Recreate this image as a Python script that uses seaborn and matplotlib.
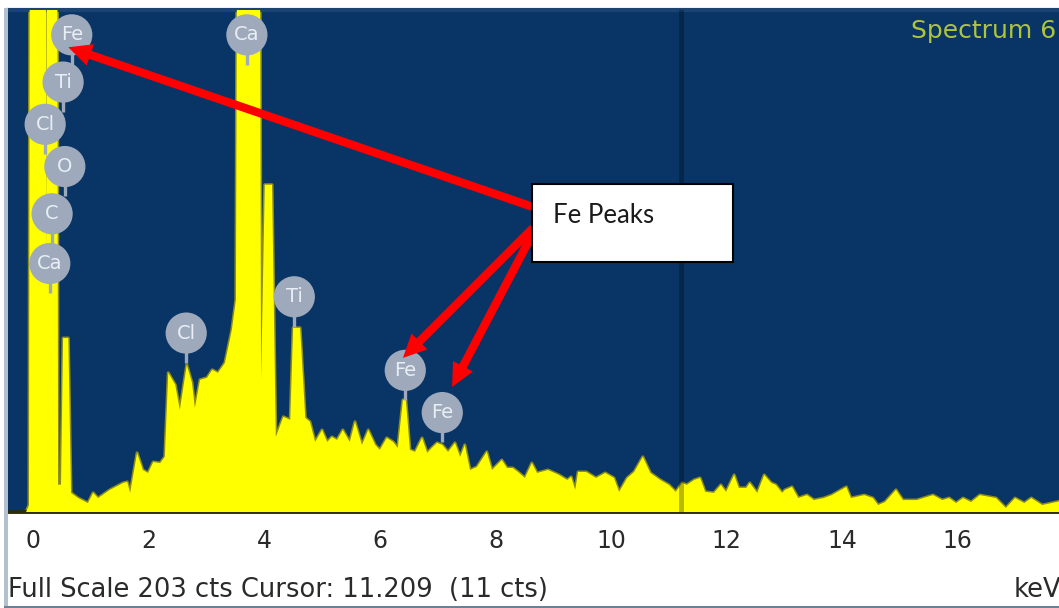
import matplotlib
matplotlib.use('Agg')
import matplotlib.pyplot as plt
import matplotlib.patches as mpatches
from matplotlib.ticker import MultipleLocator
import seaborn as sns

sns.set_style('white')
plt.rcParams['font.family'] = ['DejaVu Sans']

# Spectrum (keV, counts). Off-scale peaks are set to 600.
kev = [-0.12, -0.07, -0.035, 0.21, 0.234, 0.26, 0.40, 0.433, 0.484, 0.52,
       0.61, 0.657, 0.78, 0.95, 1.04, 1.125, 1.33, 1.56, 1.63, 1.68,
       1.80, 1.90, 1.99, 2.08, 2.20, 2.28, 2.34, 2.46, 2.54, 2.66,
       2.75, 2.80, 2.89, 3.01, 3.10, 3.20, 3.32, 3.44, 3.51, 3.58,
       3.89, 3.945, 4.01, 4.135, 4.20, 4.33, 4.45, 4.50, 4.62, 4.71,
       4.79, 4.88, 5.00, 5.09, 5.17, 5.26, 5.36, 5.48, 5.57, 5.69,
       5.80, 5.92, 6.00, 6.12, 6.23, 6.31, 6.40, 6.45, 6.52, 6.61,
       6.73, 6.82, 6.90, 6.99, 7.08, 7.18, 7.30, 7.39, 7.47, 7.56,
       7.68, 7.85, 7.94, 8.11, 8.20, 8.30, 8.39, 8.51, 8.63, 8.72,
       8.91, 9.10, 9.24, 9.31, 9.38, 9.43, 9.57, 9.74, 9.90, 10.05,
       10.14, 10.28, 10.40, 10.55, 10.68, 10.85, 11.00, 11.12, 11.23, 11.31,
       11.44, 11.54, 11.63, 11.78, 11.90, 11.99, 12.13, 12.21, 12.34, 12.40,
       12.53, 12.65, 12.77, 12.85, 12.96, 13.01, 13.13, 13.24, 13.39, 13.51,
       13.68, 13.82, 14.07, 14.15, 14.38, 14.53, 14.62, 14.74, 14.93, 15.05,
       15.29, 15.57, 15.73, 15.85, 15.97, 16.09, 16.23, 16.38, 16.66, 16.83,
       16.99, 17.15, 17.27, 17.46, 17.70, 17.86]
counts = [0, 2.8, 600, 600, 87, 600, 600, 11, 11, 70,
          70, 7.7, 5.6, 3.6, 7.7, 5.6, 8.9, 11.7, 12.1, 7.7,
          23.8, 16.9, 15.7, 20.1, 19.7, 22.2, 56.0, 51.2, 41.1, 59.2,
          52.0, 41.9, 53.2, 54.0, 57.2, 56.0, 60.0, 73.3, 85.4, 600,
          600, 53.2, 131.7, 131.7, 30.2, 38.3, 37.1, 74.1, 74.1, 37.9,
          36.3, 28.2, 33.0, 28.2, 30.2, 29.0, 33.0, 28.2, 36.3, 27.0,
          33.0, 27.0, 25.0, 29.8, 28.2, 25.8, 45.1, 45.1, 25.0, 24.2,
          29.8, 23.8, 25.8, 27.8, 27.0, 24.2, 27.8, 22.2, 27.0, 16.9,
          18.1, 24.2, 16.9, 20.9, 17.7, 17.7, 16.1, 13.7, 19.7, 15.7,
          16.9, 14.9, 12.9, 14.1, 8.9, 16.1, 16.1, 13.7, 15.7, 13.7,
          8.1, 13.7, 16.1, 22.2, 15.7, 12.9, 10.9, 8.1, 11.7, 10.9,
          12.9, 13.7, 8.1, 7.7, 10.9, 8.1, 14.9, 9.7, 9.7, 11.7,
          7.7, 14.9, 11.7, 10.9, 7.7, 8.9, 10.1, 5.6, 6.8, 4.8,
          5.6, 6.8, 10.1, 5.6, 6.8, 5.6, 2.8, 4.0, 8.9, 4.8,
          4.8, 6.8, 4.8, 5.6, 3.6, 5.6, 4.0, 6.8, 5.6, 1.6,
          5.6, 3.6, 5.6, 2.8, 4.0, 4.8]

# element markers
line_names = ['Fe', 'Ti', 'Cl', 'O', 'C', 'Ca', 'Ca', 'Ti', 'Cl', 'Fe', 'Fe']
line_kev = [0.67, 0.52, 0.21, 0.55, 0.33, 0.29, 3.70, 4.52, 2.65, 6.44, 7.08]
line_cts = [192, 173, 156, 139, 120, 100, 192, 86.6, 72, 57, 40]

tick_kev = list(range(0, 18))
tick_labels = [str(k) if k % 2 == 0 else '' for k in tick_kev]

full_scale = 203
cursor_kev = 11.209
cursor_cts = 11

# arrow tips (data) pointing at the Fe labels
arrow_tips = [(0.61, 187), (6.40, 62), (7.25, 50.3)]

W, H = 1059, 608
def px(x, y):
    return x / W, 1 - y / H

fig = plt.figure(figsize=(W / 100, H / 100), dpi=100)
ax = fig.add_axes([8 / W, 1 - 512 / H, (W - 8) / W, 502 / H])
ax.set_facecolor('#083566')

sns.lineplot(x=kev, y=counts, ax=ax, color='#8c8c18', lw=2.2,
             sort=False, estimator=None, zorder=2)
ax.fill_between(kev, counts, 0, color='#ffff00', lw=0, zorder=3)

ax.axvline(cursor_kev, color='black', alpha=0.28, lw=3.5, zorder=4)

ax.vlines(line_kev, [c - 12 for c in line_cts], line_cts,
          color='#9eaabb', lw=2.4, zorder=5)
ax.scatter(line_kev, line_cts, s=880, color='#9eaabb', edgecolor='none', zorder=6)
for name, k, c in zip(line_names, line_kev, line_cts):
    ax.text(k, c, name, ha='center', va='center', fontsize=14,
            color='#e9eef5', zorder=7)

ax.set_xlim(-0.433, 17.75)
ax.set_ylim(0, full_scale - 1)
ax.set_yticks([])
ax.set_xticks(tick_kev, tick_labels)
ax.xaxis.set_minor_locator(MultipleLocator(0.5))
ax.tick_params(axis='x', which='major', direction='out', length=7, width=1.5,
               color='#5a5a5a', pad=5, labelsize=17, labelcolor='#2a2a2a')
ax.tick_params(axis='x', which='minor', direction='out', length=4, width=1.5,
               color='#9a9a9a')
ax.set_xlabel('')
ax.set_ylabel('')
for side in ['left', 'right']:
    ax.spines[side].set_visible(False)
ax.spines['top'].set_color('#1c4473')
ax.spines['top'].set_linewidth(3)
ax.spines['bottom'].set_color('#2e2c08')
ax.spines['bottom'].set_linewidth(2.8)

# window frame bits
fig.patches.append(mpatches.Rectangle(px(4, 606), 4 / W, 598 / H, transform=fig.transFigure,
                                      color='#b3c0d0', lw=0))
fig.patches.append(mpatches.Rectangle(px(4, 608), 1, 2.5 / H, transform=fig.transFigure,
                                      color='#6a7f99', lw=0))

fig.text(*px(1056, 31), 'Spectrum 6', ha='right', va='center', fontsize=18,
         color='#b0c43a')
fig.text(*px(8, 590), 'Full Scale %d cts Cursor: %.3f  (%d cts)' % (full_scale, cursor_kev, cursor_cts),
         ha='left', va='center', fontsize=18.5, color='#2a2a2a')
fig.text(*px(1061, 590), 'keV', ha='right', va='center', fontsize=18.5, color='#2a2a2a')

# callout
tails = [px(533, 207), px(533, 228), px(533, 233)]
for tip, tail in zip(arrow_tips, tails):
    ax.annotate('', xy=tip, xycoords='data', xytext=tail, textcoords='figure fraction',
                arrowprops=dict(arrowstyle='simple,head_length=1.4,head_width=1.35,tail_width=0.5',
                                mutation_scale=12, color='#ff0000', lw=0,
                                shrinkA=0, shrinkB=0),
                zorder=10, annotation_clip=False)

fig.patches.append(mpatches.Rectangle(px(532, 262), 201 / W, 78 / H, transform=fig.transFigure,
                                      facecolor='white', edgecolor='black', lw=1.5, zorder=20))
fig.text(*px(553, 215), 'Fe Peaks', ha='left', va='center', fontsize=18.5,
         family=['Lato', 'DejaVu Sans'], color='#1a1a1a', zorder=21)

fig.savefig('out.png', dpi=100)
